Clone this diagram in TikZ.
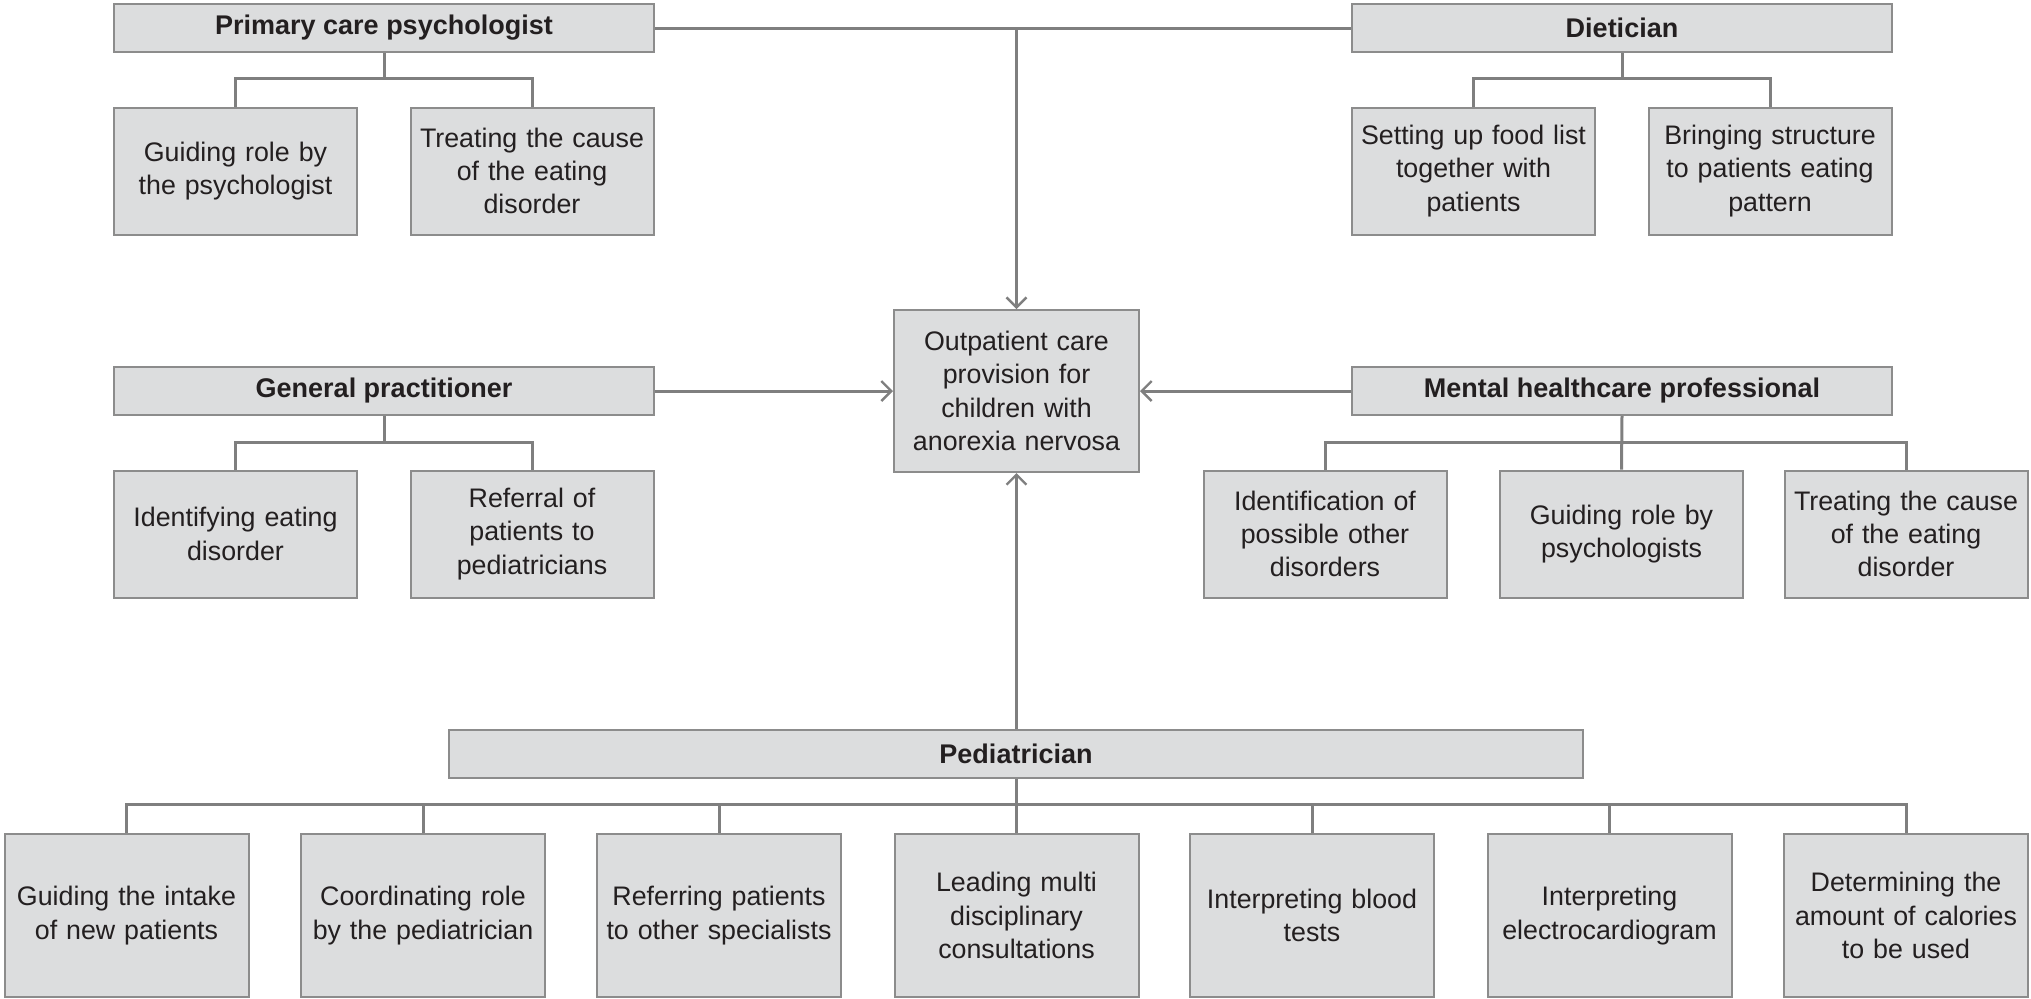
\documentclass[tikz,border=0pt]{standalone}
\usepackage{fontspec}
\setmainfont{Liberation Sans}
\usetikzlibrary{arrows.meta}
\definecolor{boxfill}{HTML}{DCDDDE}
\definecolor{boxline}{HTML}{8C8C8C}
\definecolor{conn}{HTML}{7F7F7F}
\definecolor{txt}{HTML}{231F20}
\tikzset{
  box/.style={draw=boxline, line width=1pt, fill=boxfill, text=txt, inner sep=2pt,
    align=center, font=\fontsize{13.4}{16.7}\selectfont},
  head/.style={box, minimum width=270pt, minimum height=24pt, font=\fontsize{13.5}{16.7}\selectfont\bfseries},
  leaf/.style={box, minimum width=121.5pt, minimum height=63.5pt, text width=117pt},
  pleaf/.style={box, minimum width=122pt, minimum height=81.5pt, text width=117.5pt},
  link/.style={draw=conn, line width=1.5pt},
  arr/.style={link, -{Straight Barb[length=5pt,width=10pt,line width=1.2pt]}}
}
\begin{document}
\begin{tikzpicture}[x=0.5pt,y=-0.5pt]
\useasboundingbox (0,0) rectangle (2031,998);
% central node
\node[box, minimum width=122.5pt, minimum height=81pt, text width=118pt] (c) at (1016.5,391)
  {Outpatient care\\provision for\\children with\\anorexia nervosa};
% primary care psychologist
\node[head] (pcp) at (384,28) {Primary care psychologist};
\node[leaf] (pcp1) at (235.5,171) {Guiding role by\\the psychologist};
\node[leaf] (pcp2) at (532,171) {Treating the cause\\of the eating\\disorder};
% dietician
\node[head] (diet) at (1622,28) {Dietician};
\node[leaf] (diet1) at (1473.5,171) {Setting up food list\\together with\\patients};
\node[leaf] (diet2) at (1770,171) {Bringing structure\\to patients eating\\pattern};
% general practitioner
\node[head] (gp) at (384,391) {General practitioner};
\node[leaf] (gp1) at (235.5,534) {Identifying eating\\disorder};
\node[leaf] (gp2) at (532,534) {Referral of\\patients to\\pediatricians};
% mental healthcare
\node[head] (mh) at (1622,391) {Mental healthcare professional};
\node[leaf] (mh1) at (1325,534) {Identification of\\possible other\\disorders};
\node[leaf] (mh2) at (1621.5,534) {Guiding role by\\psychologists};
\node[leaf] (mh3) at (1906,534) {Treating the cause\\of the eating\\disorder};
% pediatrician
\node[head, minimum width=567pt] (ped) at (1016,754) {Pediatrician};
\node[pleaf] (p1) at (126.5,915.5) {Guiding the intake\\of new patients};
\node[pleaf] (p2) at (423,915.5) {Coordinating role\\by the pediatrician};
\node[pleaf] (p3) at (719,915.5) {Referring patients\\to other specialists};
\node[pleaf] (p4) at (1016.5,915.5) {Leading multi\\disciplinary\\consultations};
\node[pleaf] (p5) at (1312,915.5) {Interpreting blood\\tests};
\node[pleaf] (p6) at (1609.5,915.5) {Interpreting\\electrocardiogram};
\node[pleaf] (p7) at (1906,915.5) {Determining the\\amount of calories\\to be used};
% buses
\coordinate (pcpbus) at (384,78);
\coordinate (dietbus) at (1622,78);
\coordinate (gpbus) at (384,442);
\coordinate (mhbus) at (1622,442);
\coordinate (pedbus) at (1016,804);
% main connectors
\draw[link] (pcp.east) -- (diet.west);
\draw[arr] (c.north |- pcp.east) -- (c.north);
\draw[arr] (gp.east) -- (c.west);
\draw[arr] (mh.west) -- (c.east);
\draw[arr] (ped.north -| c.south) -- (c.south);
% trees
\draw[link] (pcp.south) -- (pcpbus);
\draw[link] (pcp1.north) |- (pcpbus) -| (pcp2.north);
\draw[link] (diet.south) -- (dietbus);
\draw[link] (diet1.north) |- (dietbus) -| (diet2.north);
\draw[link] (gp.south) -- (gpbus);
\draw[link] (gp1.north) |- (gpbus) -| (gp2.north);
\draw[link] (mh.south) -- (mh2.north);
\draw[link] (mh1.north) |- (mhbus) -| (mh3.north);
\draw[link] (ped.south) -- (pedbus);
\draw[link] (p1.north) |- (pedbus) -| (p7.north);
\foreach \k in {2,3,4,5,6} {\draw[link] (p\k.north) -- (p\k.north |- pedbus);}
\end{tikzpicture}
\end{document}
